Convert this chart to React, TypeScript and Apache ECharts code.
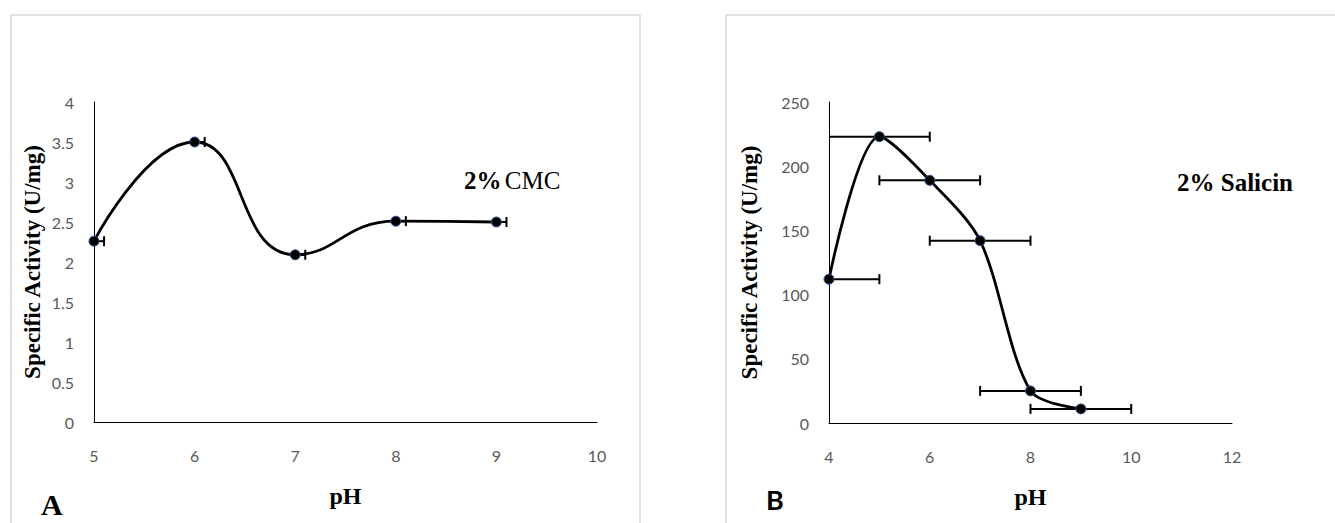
import React, { useEffect, useRef } from "react";
import * as echarts from "echarts";

// Panel A: 2% CMC
const phA = [5, 6, 7, 8, 9];
const actA = [2.26, 3.5, 2.09, 2.51, 2.5];
const errPlusA = [0.1, 0.1, 0.1, 0.1, 0.1];
const errMinusA = [0, 0, 0, 0, 0];

// Panel B: 2% Salicin
const phB = [4, 5, 6, 7, 8, 9];
const actB = [112, 223, 189, 142, 25, 11];
const errPlusB = [1, 1, 1, 1, 1, 1];
const errMinusB = [1, 1, 1, 1, 1, 1];

const yTicksA = { min: 0, max: 4, interval: 0.5 };
const xTicksA = { min: 5, max: 10, interval: 1 };
const yTicksB = { min: 0, max: 250, interval: 50 };
const xTicksB = { min: 4, max: 12, interval: 2 };

const SERIF = "'Liberation Serif', 'Times New Roman', serif";
const SANS = "Lato, 'Open Sans', sans-serif";

function errorRender(params: any, api: any) {
  const x = api.value(0);
  const y = api.value(1);
  const lo = api.value(2);
  const hi = api.value(3);
  const p1 = api.coord([lo, y]);
  const p2 = api.coord([hi, y]);
  const h = 5;
  const style = { stroke: "#000", lineWidth: 2 };
  const children: any[] = [
    { type: "line", shape: { x1: p1[0], y1: p1[1], x2: p2[0], y2: p2[1] }, style },
    { type: "line", shape: { x1: p2[0], y1: p2[1] - h, x2: p2[0], y2: p2[1] + h }, style },
  ];
  if (lo < x) {
    children.push({ type: "line", shape: { x1: p1[0], y1: p1[1] - h, x2: p1[0], y2: p1[1] + h }, style });
  }
  return { type: "group", children };
}

export default function App() {
  const ref = useRef<HTMLDivElement>(null);
  useEffect(() => {
    if (!ref.current) return;
    const chart = echarts.init(ref.current, null, { renderer: "svg" });
    const axisLabel = { color: "#595959", fontFamily: SANS, fontSize: 16 };
    const yName = {
      name: "Specific Activity (U/mg)",
      nameLocation: "middle" as const,
      nameTextStyle: { color: "#000", fontFamily: SERIF, fontWeight: "bold", fontSize: 23 },
    };
    const xName = {
      name: "pH",
      nameLocation: "middle" as const,
      nameGap: 62,
      nameTextStyle: { color: "#000", fontFamily: SERIF, fontWeight: "bold", fontSize: 24 },
    };
    const axisLine = { show: true, lineStyle: { color: "#000", width: 1 } };
    const lineSeries = (xs: number[], ys: number[], idx: number, smooth: number) => ({
      type: "line",
      xAxisIndex: idx,
      yAxisIndex: idx,
      data: xs.map((x, i) => [x, ys[i]]),
      smooth,
      symbol: "circle",
      symbolSize: 10,
      z: 5,
      lineStyle: { color: "#000", width: 2.8 },
      itemStyle: { color: "#000", borderColor: "#2f5597", borderWidth: 1 },
    });
    chart.setOption({
      animation: false,
      backgroundColor: "#fff",
      grid: [
        { left: 94, top: 102, width: 503, height: 320 },
        { left: 829, top: 102, width: 403, height: 321 },
      ],
      xAxis: [
        {
          type: "value", gridIndex: 0, ...xTicksA, ...xName,
          axisLine, axisTick: { show: false }, splitLine: { show: false },
          axisLabel: { ...axisLabel, margin: 25 },
        },
        {
          type: "value", gridIndex: 1, ...xTicksB, ...xName,
          axisLine, axisTick: { show: false }, splitLine: { show: false },
          axisLabel: { ...axisLabel, margin: 25 },
        },
      ],
      yAxis: [
        {
          type: "value", gridIndex: 0, ...yTicksA, ...yName, nameGap: 50,
          axisLine, axisTick: { show: false }, splitLine: { show: false },
          axisLabel: { ...axisLabel, margin: 20 },
        },
        {
          type: "value", gridIndex: 1, ...yTicksB, ...yName, nameGap: 68,
          axisLine, axisTick: { show: false }, splitLine: { show: false },
          axisLabel: { ...axisLabel, margin: 20 },
        },
      ],
      series: [
        {
          type: "custom", xAxisIndex: 0, yAxisIndex: 0, clip: true, z: 3,
          renderItem: errorRender,
          encode: { x: [0, 2, 3], y: 1 },
          data: phA.map((x, i) => [x, actA[i], x - errMinusA[i], x + errPlusA[i]]),
        },
        lineSeries(phA, actA, 0, 0.5),
        {
          type: "custom", xAxisIndex: 1, yAxisIndex: 1, clip: true, z: 3,
          renderItem: errorRender,
          encode: { x: [0, 2, 3], y: 1 },
          data: phB.map((x, i) => [x, actB[i], x - errMinusB[i], x + errPlusB[i]]),
        },
        lineSeries(phB, actB, 1, 0.3),
      ],
      graphic: [
        { type: "rect", shape: { x: 11, y: 15, width: 629, height: 530 }, style: { fill: "none", stroke: "#d9d9d9", lineWidth: 1.5 }, silent: true, z: -1 },
        { type: "rect", shape: { x: 726, y: 15, width: 650, height: 530 }, style: { fill: "none", stroke: "#d9d9d9", lineWidth: 1.5 }, silent: true, z: -1 },
        {
          type: "text", left: 464, top: 168,
          style: {
            text: "{b|2%} {r|CMC}",
            rich: {
              b: { fontFamily: SERIF, fontWeight: "bold", fontSize: 25, fill: "#000" },
              r: { fontFamily: SERIF, fontSize: 25, fill: "#000" },
            },
          },
        },
        {
          type: "text", left: 1177, top: 170,
          style: { text: "2% Salicin", fontFamily: SERIF, fontWeight: "bold", fontSize: 25, fill: "#000" },
        },
        {
          type: "text", left: 41, top: 489,
          style: { text: "A", fontFamily: SERIF, fontWeight: "bold", fontSize: 30, fill: "#000" },
        },
        {
          type: "text", left: 766, top: 486,
          style: { text: "B", fontFamily: SANS, fontWeight: "bold", fontSize: 27, fill: "#000" },
        },
      ],
    });
    return () => chart.dispose();
  }, []);
  return (
    <div
      ref={ref}
      style={{ position: "absolute", left: 0, top: 0, width: 1335, height: 523, background: "#fff" }}
    />
  );
}
